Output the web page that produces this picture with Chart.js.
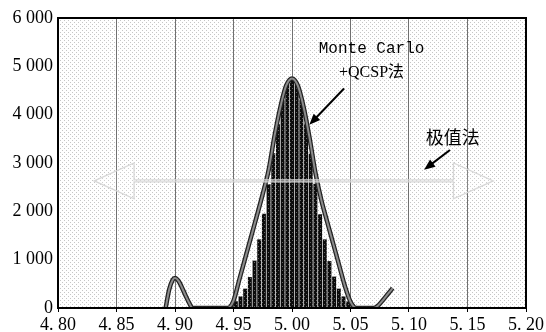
<!doctype html>
<html>
<head>
<meta charset="utf-8">
<title>Histogram</title>
<script src="https://cdn.jsdelivr.net/npm/chart.js@4.4.1/dist/chart.umd.min.js"></script>
<style>
  html, body { margin: 0; padding: 0; background: #fff; }
  #holder { width: 546px; height: 332px; }
</style>
</head>
<body>
<div id="holder"><canvas id="chart"></canvas></div>
<script>
// tick labels as printed
var xTickLabels = ['4. 80', '4. 85', '4. 90', '4. 95', '5. 00', '5. 05', '5. 10', '5. 15', '5. 20'];
var yTickLabels = ['0', '1 000', '2 000', '3 000', '4 000', '5 000', '6 000'];

// histogram (Monte Carlo), bin centres and counts
var binCenters = [4.932, 4.936, 4.940, 4.944, 4.948, 4.952, 4.956, 4.960, 4.964, 4.968, 4.972, 4.976,
                  4.980, 4.984, 4.988, 4.992, 4.996, 5.000, 5.004, 5.008, 5.012, 5.016, 5.020, 5.024,
                  5.028, 5.032, 5.036, 5.040, 5.044, 5.048, 5.052, 5.056, 5.060, 5.064, 5.068];
var binCounts = [5, 10, 20, 40, 75, 140, 240, 400, 640, 980, 1420, 1950,
                 2560, 3200, 3800, 4300, 4630, 4750, 4640, 4300, 3810, 3190, 2570, 1940,
                 1420, 970, 650, 400, 240, 135, 75, 40, 20, 10, 5];

// fitted curve
var fitX = [4.892, 4.895, 4.898, 4.900, 4.903, 4.906, 4.909, 4.912, 4.915, 4.920, 4.925, 4.930,
            4.935, 4.940, 4.945, 4.950, 4.955, 4.960, 4.965, 4.970, 4.975, 4.980, 4.985, 4.990,
            4.995, 5.000, 5.005, 5.010, 5.015, 5.020, 5.025, 5.030, 5.035, 5.040, 5.045, 5.050,
            5.055, 5.060, 5.065, 5.070, 5.074, 5.078, 5.082, 5.086];
var fitY = [0, 380, 580, 620, 560, 420, 260, 110, 0, 0, 0, 0,
            0, 0, 0, 150, 590, 1030, 1470, 1910, 2360, 2850, 3550, 4150,
            4600, 4750, 4600, 4150, 3520, 2800, 2240, 1790, 1350, 910, 470, 130,
            0, 0, 0, 0, 60, 170, 290, 410];

// range of the extreme-value method (double arrow)
var rangeX = [4.831, 5.172];
var rangeHeadX = [4.865, 5.138];
var rangeY = 2630;

var histData = binCenters.map(function (v, i) { return { x: v, y: binCounts[i] }; });
var fitData = fitX.map(function (v, i) { return { x: v, y: fitY[i] }; });

function dotTile(size, bg, dot) {
  var c = document.createElement('canvas');
  c.width = size; c.height = size;
  var g = c.getContext('2d');
  if (bg) { g.fillStyle = bg; g.fillRect(0, 0, size, size); }
  g.fillStyle = dot;
  g.fillRect(0, 0, 1, 1);
  g.fillRect(size / 2, size / 2, 1, 1);
  return c;
}

var ctx = document.getElementById('chart').getContext('2d');
var bgPattern = ctx.createPattern(dotTile(4, null, '#c6c6c6'), 'repeat');
var barPattern = ctx.createPattern(dotTile(4, '#0c0c0c', '#666'), 'repeat');

function arrow(c, x1, y1, x2, y2) {
  var ang = Math.atan2(y2 - y1, x2 - x1);
  c.beginPath();
  c.moveTo(x1, y1);
  c.lineTo(x2 - 8 * Math.cos(ang), y2 - 8 * Math.sin(ang));
  c.stroke();
  c.beginPath();
  c.moveTo(x2, y2);
  c.lineTo(x2 - 11 * Math.cos(ang) + 4.5 * Math.sin(ang), y2 - 11 * Math.sin(ang) - 4.5 * Math.cos(ang));
  c.lineTo(x2 - 11 * Math.cos(ang) - 4.5 * Math.sin(ang), y2 - 11 * Math.sin(ang) + 4.5 * Math.cos(ang));
  c.closePath();
  c.fill();
}

var decor = {
  id: 'decor',
  beforeDraw: function (chart) {
    var a = chart.chartArea, c = chart.ctx;
    c.save();
    c.fillStyle = '#fff';
    c.fillRect(0, 0, chart.width, chart.height);
    c.fillStyle = bgPattern;
    c.fillRect(a.left, a.top, a.right - a.left, a.bottom - a.top);
    c.restore();
  },
  afterDatasetsDraw: function (chart) {
    var c = chart.ctx, a = chart.chartArea, x = chart.scales.x, y = chart.scales.y;
    c.save();

    // double arrow
    var xl = x.getPixelForValue(rangeX[0]), xr = x.getPixelForValue(rangeX[1]);
    var bl = x.getPixelForValue(rangeHeadX[0]), br = x.getPixelForValue(rangeHeadX[1]);
    var yc = y.getPixelForValue(rangeY);
    var hh = y.getPixelForValue(rangeY - 370) - yc, sh = 1;
    c.beginPath();
    c.moveTo(xl, yc);
    c.lineTo(bl, yc - hh); c.lineTo(bl, yc - sh);
    c.lineTo(br, yc - sh); c.lineTo(br, yc - hh);
    c.lineTo(xr, yc);
    c.lineTo(br, yc + hh); c.lineTo(br, yc + sh);
    c.lineTo(bl, yc + sh); c.lineTo(bl, yc + hh);
    c.closePath();
    c.fillStyle = 'rgba(255,255,255,0.15)';
    c.fill();
    c.strokeStyle = '#d8d8d8';
    c.lineWidth = 1.3;
    c.stroke();

    // plot frame
    c.strokeStyle = '#000';
    c.lineWidth = 2;
    c.strokeRect(a.left, a.top, a.right - a.left, a.bottom - a.top);

    // annotations
    c.fillStyle = '#000';
    c.strokeStyle = '#000';
    c.lineWidth = 2;
    arrow(c, x.getPixelForValue(5.0445), y.getPixelForValue(4540), x.getPixelForValue(5.0148), y.getPixelForValue(3790));
    arrow(c, x.getPixelForValue(5.135), y.getPixelForValue(3270), x.getPixelForValue(5.1129), y.getPixelForValue(2860));

    c.textAlign = 'center';
    c.textBaseline = 'middle';
    c.font = '16px "Liberation Mono", monospace';
    c.fillText('Monte Carlo', x.getPixelForValue(5.068), y.getPixelForValue(5370));
    c.font = '16px "Liberation Serif", "Noto Sans CJK SC", serif';
    c.fillText('+QCSP法', x.getPixelForValue(5.068), y.getPixelForValue(4870));
    c.font = '18px "Noto Sans CJK SC", serif';
    c.fillText('极值法', x.getPixelForValue(5.1374), y.getPixelForValue(3530));
    c.restore();
  }
};

var tickFont = { family: '"Liberation Serif", serif', size: 18 };

new Chart(ctx, {
  type: 'bar',
  data: {
    datasets: [
      {
        type: 'line',
        data: fitData,
        borderColor: '#8c8c8c',
        borderWidth: 2,
        pointRadius: 0,
        cubicInterpolationMode: 'monotone',
        order: 0
      },
      {
        type: 'line',
        data: fitData,
        borderColor: '#222',
        borderWidth: 4.5,
        pointRadius: 0,
        cubicInterpolationMode: 'monotone',
        order: 1
      },
      {
        type: 'bar',
        data: histData,
        backgroundColor: barPattern,
        borderWidth: 0,
        barPercentage: 0.85,
        categoryPercentage: 1,
        order: 2
      }
    ]
  },
  options: {
    responsive: true,
    maintainAspectRatio: false,
    animation: false,
    layout: { padding: { top: 18, right: 18, left: 0, bottom: 0 } },
    plugins: { legend: { display: false }, tooltip: { enabled: false } },
    scales: {
      x: {
        type: 'linear',
        offset: false,
        min: 4.8,
        max: 5.2,
        afterFit: function (s) { s.height = 24; },
        grid: { offset: false, color: '#707070', lineWidth: 1, tickColor: '#000', tickLength: 4 },
        border: { display: true, color: '#000', width: 2 },
        ticks: {
          stepSize: 0.05,
          autoSkip: false,
          maxRotation: 0,
          padding: 2,
          color: '#000',
          font: tickFont,
          callback: function (v, i) { return xTickLabels[i]; }
        }
      },
      y: {
        min: 0,
        max: 6000,
        afterFit: function (s) { s.width = 58; },
        grid: { drawOnChartArea: false, drawTicks: false },
        border: { display: true, color: '#000', width: 2 },
        ticks: {
          stepSize: 1000,
          padding: 5,
          color: '#000',
          font: tickFont,
          callback: function (v, i) { return yTickLabels[i]; }
        }
      }
    }
  },
  plugins: [decor]
});
</script>
</body>
</html>
